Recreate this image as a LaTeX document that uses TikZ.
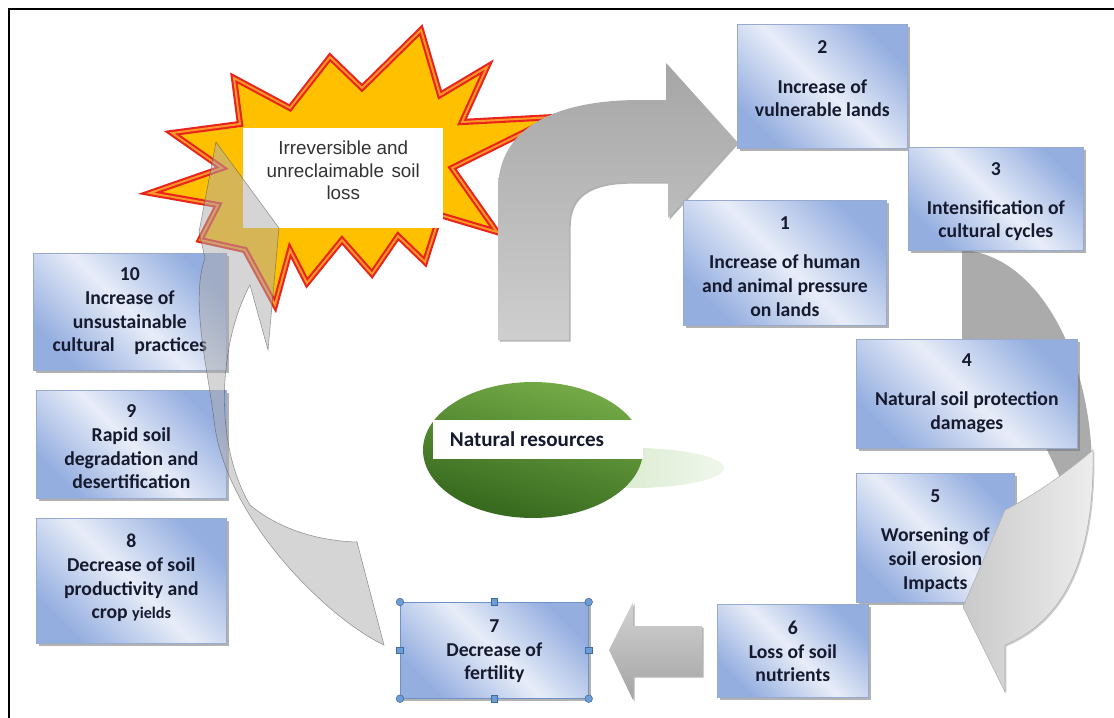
\documentclass[tikz,border=0pt]{standalone}
\usepackage{fontspec}
\setmainfont{Carlito}
\newfontfamily\arialfont{Liberation Sans}
\usetikzlibrary{positioning,shadows}

\definecolor{boxdark}{RGB}{148,174,224}
\definecolor{boxlight}{RGB}{232,237,248}
\definecolor{boxline}{RGB}{152,170,206}
\definecolor{boxink}{RGB}{22,26,46}
\definecolor{selline}{RGB}{110,145,200}
\definecolor{selblue}{RGB}{110,156,212}
\definecolor{seledge}{RGB}{62,108,160}
\definecolor{burstfill}{RGB}{255,192,0}
\definecolor{burstred}{RGB}{232,36,28}
\definecolor{burstorange}{RGB}{255,150,40}
\definecolor{greenlight}{RGB}{118,172,72}
\definecolor{greendark}{RGB}{52,102,28}
\definecolor{greenshade}{RGB}{204,227,190}

\begin{document}
\begin{tikzpicture}[x=0.025cm, y=-0.025cm,
  every node/.style={inner sep=0pt},
  sz/.style 2 args={minimum width=#1*0.025cm, minimum height=#2*0.025cm},
  stagebox/.style={draw=boxline, line width=0.5pt, top color=boxdark, bottom color=boxdark,
    middle color=boxlight, shading angle=-45, anchor=north west,
    drop shadow={shadow xshift=1.6pt, shadow yshift=-1.6pt, fill=black!55, opacity=0.55}},
  stagetext/.style={align=center, text=boxink, font=\bfseries\fontsize{14}{16.8}\selectfont},
  grayarrow/.style={top color=gray!70, bottom color=gray!38,
    drop shadow={shadow xshift=1.2pt, shadow yshift=-1.2pt, fill=black!60, opacity=0.5}},
  ghostarrow/.style={fill=gray!65, fill opacity=0.5, draw=black!70, draw opacity=0.55, line width=0.4pt},
  burst/.style={fill=burstfill, draw=burstred, double=burstorange, double distance=1.4pt, line width=1.5pt},
  handledot/.style={circle, fill=selblue, draw=seledge, line width=0.4pt, minimum size=0.19cm},
  handlesq/.style={rectangle, fill=selblue, draw=seledge, line width=0.4pt, minimum size=0.17cm},
]
\useasboundingbox (0,0) rectangle (1114,718);
\draw[line width=1.8pt] (9,718) -- (9,9) -- (1114,9);

% explosion with the final stage
\path[burst] (421,30) -- (440,95) -- (487,67) -- (462,122) -- (555,117) -- (452,168)
  -- (497,232) -- (440,215) -- (425,262) -- (398,236) -- (372,274) -- (342,240)
  -- (307,283) -- (290,250) -- (275,305) -- (245,250) -- (200,240) -- (218,205)
  -- (150,193) -- (222,168) -- (172,133) -- (240,124) -- (234,78) -- (290,108)
  -- (330,57) -- (362,88) -- cycle;
\node[fill=white, sz={200}{100}, anchor=north west] (lossbox) at (243,128) {};
\node[align=center, text=black!80, font=\arialfont\fontsize{13.4}{16}\selectfont,
  below=9pt of lossbox.north] (losstext) {Irreversible and\\unreclaimable\hspace{0.4em}soil\\loss};

% bent arrow 1 -> 2
\path[grayarrow] (498,340) -- (498,190) .. controls (498,125) and (560,100) .. (640,100)
  -- (666,100) -- (666,63) -- (737,142) -- (668,218) -- (668,182) -- (630,182)
  .. controls (590,182) and (569,195) .. (569,225) -- (569,340) -- cycle;

% natural resources
\path[left color=greenshade, right color=greenshade!30] (632,468) ellipse (92 and 20);
\path[top color=greenlight, bottom color=greendark, shading angle=-15] (533,450) ellipse (110 and 68);
\fill[white] (433,420) rectangle (643,459);
\node[text=boxink, font=\bfseries\fontsize{15}{18}\selectfont] (natres) at (527,439) {Natural resources};

% back of the curved arrow 3 -> 5
\fill[gray!66] (962,250) .. controls (1040,255) and (1092,360) .. (1092,470)
  -- (1085,540) .. controls (1060,470) and (1010,360) .. (962,345) -- cycle;

% stages
\node[stagebox, sz={203}{125}] (b1) at (683,200) {};
\node[stagetext, below=11.4pt of b1.north] (t1) {1\\[11.5pt]Increase of human\\and animal pressure\\on lands};
\node[stagebox, sz={170}{124}] (b2) at (737,24) {};
\node[stagetext, below=11.4pt of b2.north] (t2) {2\\[11.5pt]Increase of\\vulnerable lands};
\node[stagebox, sz={175}{103}] (b3) at (908,147) {};
\node[stagetext, below=11pt of b3.north] (t3) {3\\[10.5pt]Intensification of\\cultural cycles};
\node[stagebox, sz={221}{109}] (b4) at (856,339) {};
\node[stagetext, below=10pt of b4.north] (t4) {4\\[11.5pt]Natural soil protection\\damages};
\node[stagebox, sz={158}{129}] (b5) at (856,473) {};
\node[stagetext, below=11.4pt of b5.north] (t5) {5\\[11.5pt]Worsening of\\soil erosion\\Impacts};
\node[stagebox, sz={151}{93}] (b6) at (717,604) {};
\node[stagetext, below=12pt of b6.north] (t6) {6\\Loss of soil\\nutrients};
\node[stagebox, draw=selline, sz={188}{96}] (b7) at (400,602) {};
\node[stagetext, below=12.5pt of b7.north] (t7) {7\\Decrease of\\fertility};
\node[stagebox, sz={190}{125}] (b8) at (36,518) {};
\node[stagetext, below=11.4pt of b8.north] (t8) {8\\Decrease of soil\\productivity and\\crop {\fontsize{11.5}{16.8}\selectfont yields}};
\node[stagebox, sz={190}{108}] (b9) at (36,390) {};
\node[stagetext, below=10.5pt of b9.north] (t9) {9\\Rapid soil\\degradation and\\desertification};
\node[stagebox, sz={193}{117}] (b10) at (33,253) {};
\node[stagetext, below=10.5pt of b10.north] (t10) {10\\Increase of\\unsustainable\\cultural\hspace{1em}practices};

% front of the curved arrow 3 -> 5
\path[left color=gray!42, right color=gray!14, draw=gray!60, line width=0.4pt,
  drop shadow={shadow xshift=1pt, shadow yshift=-1pt, fill=black!50, opacity=0.4}]
  (1093,450) .. controls (1070,470) and (1035,495) .. (1005,510) -- (963,607) -- (1005,692)
  -- (1005,645) .. controls (1060,622) and (1095,565) .. (1093,450) -- cycle;

% block arrow 6 -> 7
\path[grayarrow, top color=gray!35, bottom color=gray!72] (702,626) -- (633,626) -- (633,602)
  -- (609,650) -- (633,700) -- (633,676) -- (702,676) -- cycle;

% curved arrow 7 -> 10
\path[ghostarrow] (384,645) .. controls (330,620) and (225,520) .. (214,420)
  .. controls (208,370) and (190,300) .. (205,258)
  -- (199,232) -- (216,142) -- (279,228) -- (268,350) -- (250,285)
  .. controls (220,340) and (212,440) .. (250,505)
  .. controls (280,530) and (320,541) .. (357,542) -- cycle;

% selection handles
\foreach \a/\n in {north west/nw, north east/ne, south west/sw, south east/se}
  \node[handledot] (h\n) at (b7.\a) {};
\foreach \a/\n in {north/n, south/s, east/e, west/w}
  \node[handlesq] (h\n) at (b7.\a) {};
\end{tikzpicture}
\end{document}
